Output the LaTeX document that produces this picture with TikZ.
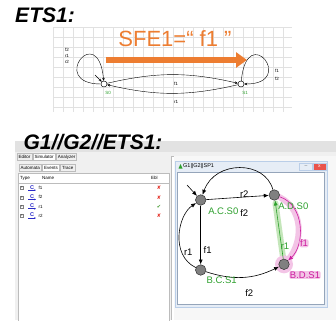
\documentclass[tikz,border=0pt]{standalone}
\usepackage{fontspec}
\setmainfont{Liberation Sans}
\newfontfamily\dejavu{DejaVu Sans}
\usetikzlibrary{arrows.meta,positioning,calc}
\definecolor{etsorange}{RGB}{237,125,49}
\definecolor{stgreen}{RGB}{45,160,45}
\definecolor{stmag}{RGB}{205,30,160}
\definecolor{hlpink}{RGB}{243,196,230}
\definecolor{hlgreen}{RGB}{196,230,186}
\definecolor{winblue}{RGB}{186,206,232}
\definecolor{wintitle}{RGB}{230,237,246}
\definecolor{uigray}{RGB}{240,240,240}
\definecolor{uibar}{RGB}{226,226,226}
\definecolor{uiline}{RGB}{188,188,188}
\definecolor{evblue}{RGB}{40,40,200}
\definecolor{xred}{RGB}{228,40,30}
\definecolor{okgreen}{RGB}{60,150,40}
\definecolor{gridline}{RGB}{225,225,225}
\tikzset{
  headline/.style={font=\fontsize{21}{21}\selectfont\bfseries\itshape, inner sep=0pt},
  etsstate/.style={draw=black, fill=white, circle, inner sep=0pt, minimum size=6pt, line width=0.45pt},
  tinytxt/.style={font=\fontsize{4.5}{6}\selectfont, inner sep=0.5pt, align=center},
  stname/.style={tinytxt, text=stgreen},
  earr/.style={-{Stealth[length=3pt,width=2.6pt]}, line width=0.4pt},
  gstate/.style={draw=black!80, fill=black!50, circle, inner sep=0pt, minimum size=10.5pt, line width=0.5pt},
  lbl/.style={font=\fontsize{9.5}{9.5}\selectfont, inner sep=0.6pt},
  glbl/.style={lbl, text=stgreen},
  mlbl/.style={lbl, text=stmag, fill=hlpink, rounded corners=2pt},
  garr/.style={-{Latex[length=5pt,width=4pt]}, line width=0.6pt},
  tabbox/.style={draw=uiline, fill=uigray, font=\fontsize{4.5}{5}\selectfont, inner sep=1.4pt, minimum height=7pt},
  seltab/.style={tabbox, fill=white},
  colhead/.style={font=\fontsize{4.5}{5}\selectfont, inner sep=0pt, anchor=west},
  expander/.style={draw=gray, fill=white, minimum size=3pt, inner sep=0pt, font=\fontsize{3}{3}\selectfont},
  evicon/.style={font=\fontsize{5.5}{5.5}\selectfont\bfseries, text=evblue, inner sep=0.3pt},
  okmark/.style={font=\dejavu\fontsize{5}{5}\selectfont, inner sep=0pt},
  winbtn/.style={draw=winblue, fill=wintitle, minimum width=13pt, minimum height=7pt, inner sep=0pt, font=\fontsize{5}{5}\selectfont}
}
\begin{document}
\begin{tikzpicture}[x=1pt,y=1pt]
  \useasboundingbox (0,0) rectangle (336,-320);
  \fill[white] (0,0) rectangle (336,-320);

  % ETS1
  \node[headline] (etstitle) at (45,-15) {ETS1:};
  \draw[gridline, line width=0.4pt, shift={(3,3)}] (50,-29.9) grid[step=10] (289,-114.9);
  \node[font=\fontsize{22}{22}\selectfont, text=etsorange, inner sep=0pt] (sfe) at (175,-39) {SFE1=“ f1 ”};
  \coordinate (sfefrom) at (106,-60);
  \coordinate (sfeto) at (247,-60);
  \draw[etsorange, line width=6.5pt, -{Triangle[length=11pt,width=15pt]}] (sfefrom) -- (sfeto);

  \node[etsstate] (S0) at (104,-84) {};
  \node[etsstate] (S1) at (241,-84) {};
  \coordinate (S0init) at (95,-75);
  \draw[earr] (S0init) -- (S0);
  \draw[earr] (S0) .. controls (48,-84) and (98,-20) .. (S0);
  \draw[earr] (S1) .. controls (247,-20) and (297,-84) .. (S1);
  \draw[earr] (S0) to[bend left=13] (S1);
  \draw[earr] (S1) to[bend left=13] (S0);
  \node[tinytxt] at (67,-56) {f2\\r1\\r2};
  \node[tinytxt, font=\fontsize{4.5}{8}\selectfont] at (277,-75) {f1\\f2};
  \node[tinytxt] at (176,-84) {f1};
  \node[tinytxt] at (176,-102) {r1};
  \node[stname] at (108,-93) {S0};
  \node[stname] at (245,-93) {S1};

  % screenshot
  \fill[uigray] (15,-141) rectangle (172,-320);
  \fill[uibar] (15,-141) rectangle (336,-152);
  \fill[uigray] (172,-152) rectangle (336,-156);
  \draw[uiline] (172,-156) -- (336,-156);
  \fill[white!97!black] (174,-156) rectangle (336,-320);
  \node[headline] (gtitle) at (93,-142) {G1//G2//ETS1:};

  \node[tabbox, anchor=west] (editortab) at (17,-157) {Editor};
  \node[seltab, right=1pt of editortab] (simtab) {Simulator};
  \node[tabbox, right=1pt of simtab] (anatab) {Analyzer};
  \node[tabbox, anchor=west] (autotab) at (19,-168) {Automata};
  \node[seltab, right=1pt of autotab] (evtab) {Events};
  \node[tabbox, right=1pt of evtab] (tracetab) {Trace};

  \draw[uiline, fill=white] (18,-173) rectangle (169,-322);
  \draw[uiline] (18,-183) -- (169,-183);
  \draw[uiline] (171,-156) -- (171,-320);
  \node[colhead] at (20,-178) {Type};
  \node[colhead] at (42,-178) {Name};
  \node[colhead] at (151,-178) {Ebl};
  \foreach \ev/\sym/\col [count=\i] in {f1/✘/xred, f2/✘/xred, r1/✔/okgreen, r2/✘/xred}{
    \pgfmathsetmacro{\rowy}{-188-9.3*(\i-1)}
    \node[expander] (exp\i) at (22,\rowy) {+};
    \node[evicon] (ev\i) at (32,\rowy+0.8) {C};
    \draw[evblue, line width=0.5pt, -{Latex[length=1.6pt,width=1.8pt]}]
      ([xshift=-1.5pt,yshift=-0.5pt]ev\i.south west) -- ([xshift=1.5pt,yshift=-0.5pt]ev\i.south east);
    \node[colhead] at (38.5,\rowy) {\ev};
    \node[okmark, text=\col] at (159,\rowy) {\sym};
  }

  % window G1||G2||SP1
  \draw[winblue, fill=wintitle, line width=1pt] (175,-161) rectangle (327,-307);
  \draw[winblue!80!black, fill=white, line width=0.4pt] (177.5,-172) rectangle (324.5,-304.5);
  \fill[stgreen] (178.5,-168.5) -- (180.5,-164) -- (182.5,-168.5) -- cycle;
  \node[font=\fontsize{5.5}{5.5}\selectfont, inner sep=0pt, anchor=west] (wintitletext) at (183,-166.5) {G1||G2||SP1};
  \node[winbtn] (minbtn) at (306,-166.5) {\textcolor{black!60}{--}};
  \node[winbtn, fill=xred!80, right=0pt of minbtn, text=white] (closebtn) {x};

  \coordinate (pAC) at (200.7,-200);
  \coordinate (pAD) at (274.3,-195);
  \coordinate (pBC) at (200.7,-270);
  \coordinate (pBD) at (284,-264.3);
  % highlights of the trace
  \draw[hlgreen, line width=6pt, line cap=round] (pBD) -- ($(pAD)!0.12!(pBD)$);
  \draw[hlpink, line width=6pt, line cap=round] (pAD) .. controls (305,-205) and (305,-245) .. (pBD);
  \fill[hlpink] (pBD) circle (9);

  \node[gstate] (AC) at (pAC) {};
  \node[gstate] (AD) at (pAD) {};
  \node[gstate] (BC) at (pBC) {};
  \node[gstate] (BD) at (pBD) {};
  \coordinate (ACinit) at (187,-185);
  \draw[garr] (ACinit) -- (AC);
  \draw[garr] (AC) -- (AD);
  \draw[garr] (AD) .. controls (265,-160) and (215,-160) .. (AC);
  \draw[garr] (AC) -- (BC);
  \draw[garr] (BC) .. controls (170,-255) and (178,-215) .. (AC);
  \draw[garr] (BC) to[bend right=22] (BD);
  \draw[garr, stgreen] (BD) -- (AD);
  \draw[garr, stmag] (AD) .. controls (305,-205) and (305,-245) .. (BD);

  \node[glbl] at (223.3,-211) {A.C.S0};
  \node[lbl] at (244.3,-213.3) {f2};
  \node[lbl] at (244.3,-194) {r2};
  \node[glbl] at (293.3,-206.7) {A.D.S0};
  \node[lbl] at (207.7,-250) {f1};
  \node[lbl] at (188.3,-252.7) {r1};
  \node[glbl] at (221.7,-280.7) {B.C.S1};
  \node[lbl] at (249.3,-293.3) {f2};
  \node[glbl] at (285,-246) {r1};
  \node[mlbl] at (304,-243.3) {f1};
  \node[mlbl] at (305,-275) {B.D.S1};
\end{tikzpicture}
\end{document}
